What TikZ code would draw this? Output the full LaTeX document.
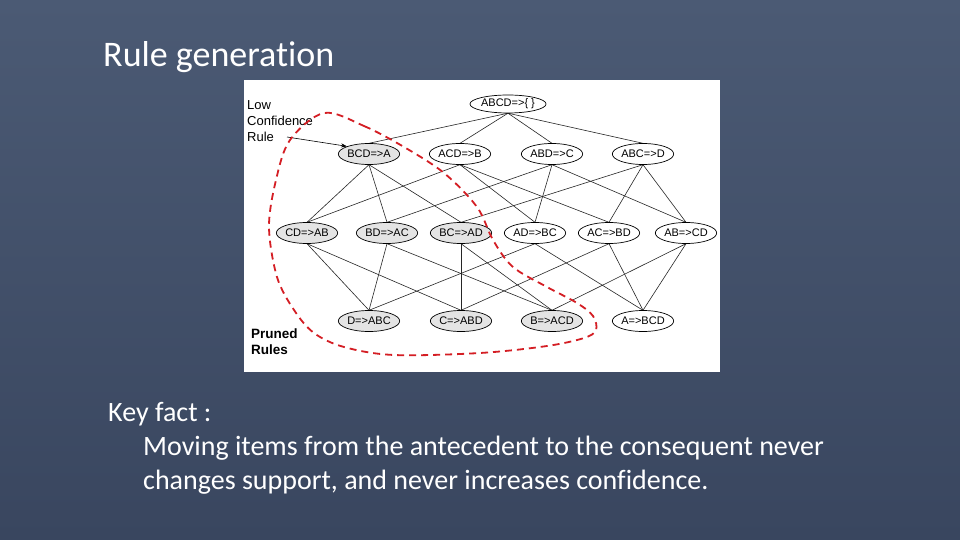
\documentclass[tikz,border=0pt]{standalone}
\usepackage{fontspec}
\setmainfont{Carlito}[Ligatures=NoCommon]
\newfontfamily\diagfont{Liberation Sans}
\usetikzlibrary{shapes.geometric,arrows.meta}
\definecolor{bgtop}{RGB}{75,90,116}
\definecolor{bgbot}{RGB}{57,70,95}
\definecolor{prune}{RGB}{212,30,36}
\definecolor{shade}{RGB}{228,228,228}
\tikzset{
  rule/.style={ellipse,draw=black,line width=0.7pt,fill=white,inner sep=0pt,
    minimum width=58pt,minimum height=21pt,font=\diagfont\fontsize{11}{12}\selectfont},
  pruned/.style={rule,fill=shade},
  edge/.style={line width=0.6pt,black!85},
  slidetext/.style={text=white,inner sep=0pt,anchor=base west},
}
\begin{document}
\begin{tikzpicture}[x=1pt,y=-1pt]
\shade[top color=bgtop,bottom color=bgbot] (0,0) rectangle (960,540);
\useasboundingbox (0,0) rectangle (960,540);
\fill[white] (244,80) rectangle (720,372);

% node positions (named coordinates)
\coordinate (pabcd) at (508,104);
\coordinate (pbcd) at (369,154);
\coordinate (pacd) at (460,154);
\coordinate (pabd) at (552,154);
\coordinate (pabc) at (643,154);
\coordinate (pcd) at (307,233);
\coordinate (pbd) at (387,233);
\coordinate (pbc) at (461,233);
\coordinate (pad) at (535,233);
\coordinate (pac) at (609,233);
\coordinate (pab) at (686,233);
\coordinate (pd) at (369,321);
\coordinate (pc) at (461,321);
\coordinate (pb) at (552,321);
\coordinate (pa) at (643,321);

% invisible nodes for edge anchors
\foreach \n/\h in {bcd/21,acd/21,abd/21,abc/21,cd/21,bd/21,bc/21,ad/21,ac/21,ab/21,d/21,c/21,b/21,a/21}
  \node[ellipse,inner sep=0pt,minimum width=58pt,minimum height=\h pt] (\n) at (p\n) {};
\node[ellipse,inner sep=0pt,minimum width=62pt,minimum height=18pt] (abcd) at (pabcd) {};

% edges
\foreach \u/\v in {abcd/bcd,abcd/acd,abcd/abd,abcd/abc,
  bcd/cd,bcd/bd,bcd/bc, acd/cd,acd/ad,acd/ac, abd/bd,abd/ad,abd/ab, abc/bc,abc/ac,abc/ab,
  cd/d,cd/c, bd/d,bd/b, bc/c,bc/b, ad/d,ad/a, ac/c,ac/a, ab/b,ab/a}
  \draw[edge] (\u.south) -- (\v.north);

% visible nodes
\node[rule,minimum width=62pt,minimum height=18pt] (vabcd) at (pabcd) {ABCD=>\{ \}};
\node[pruned] (vbcd) at (pbcd) {BCD=>A};
\node[rule] (vacd) at (pacd) {ACD=>B};
\node[rule] (vabd) at (pabd) {ABD=>C};
\node[rule] (vabc) at (pabc) {ABC=>D};
\node[pruned] (vcd) at (pcd) {CD=>AB};
\node[pruned] (vbd) at (pbd) {BD=>AC};
\node[pruned] (vbc) at (pbc) {BC=>AD};
\node[rule] (vad) at (pad) {AD=>BC};
\node[rule] (vac) at (pac) {AC=>BD};
\node[rule] (vab) at (pab) {AB=>CD};
\node[pruned] (vd) at (pd) {D=>ABC};
\node[pruned] (vc) at (pc) {C=>ABD};
\node[pruned] (vb) at (pb) {B=>ACD};
\node[rule] (va) at (pa) {A=>BCD};

% labels
\node[align=left,anchor=north west,inner sep=0pt,font=\diagfont\fontsize{13}{16}\selectfont] (low) at (247,100) {Low\\Confidence\\Rule};
\coordinate (lowtip) at (287,137);
\draw[line width=0.6pt,-{Stealth[length=6pt,width=4pt]}] (lowtip) -- (vbcd.north west);
\node[align=left,anchor=north west,inner sep=0pt,font=\diagfont\bfseries\fontsize{13.5}{15.5}\selectfont] (prunedlbl) at (251,329) {Pruned\\Rules};

% pruned boundary
\draw[prune,line width=1.8pt,dash pattern=on 7pt off 5pt]
  plot[smooth cycle,tension=0.55] coordinates {
  (324,113) (364,126) (404,147) (444,173) (477,207) (493,240) (513,267) (547,287)
  (577,303) (593,316) (596,330) (584,338) (547,346) (480,353) (394,355) (344,347)
  (314,333) (294,310) (277,277) (269,227) (276,180) (290,140)};

% slide text
\node[slidetext,font=\fontsize{36}{42}\selectfont] (title) at (103,67) {Rule generation};
\node[slidetext,font=\fontsize{28}{34}\selectfont] (key) at (108,421) {Key fact :};
\node[slidetext,font=\fontsize{28}{34}\selectfont] (l1) at (143,455) {Moving items from the antecedent to the consequent never};
\node[slidetext,font=\fontsize{28}{34}\selectfont] (l2) at (143,489) {changes support, and never increases confidence.};
\end{tikzpicture}
\end{document}
